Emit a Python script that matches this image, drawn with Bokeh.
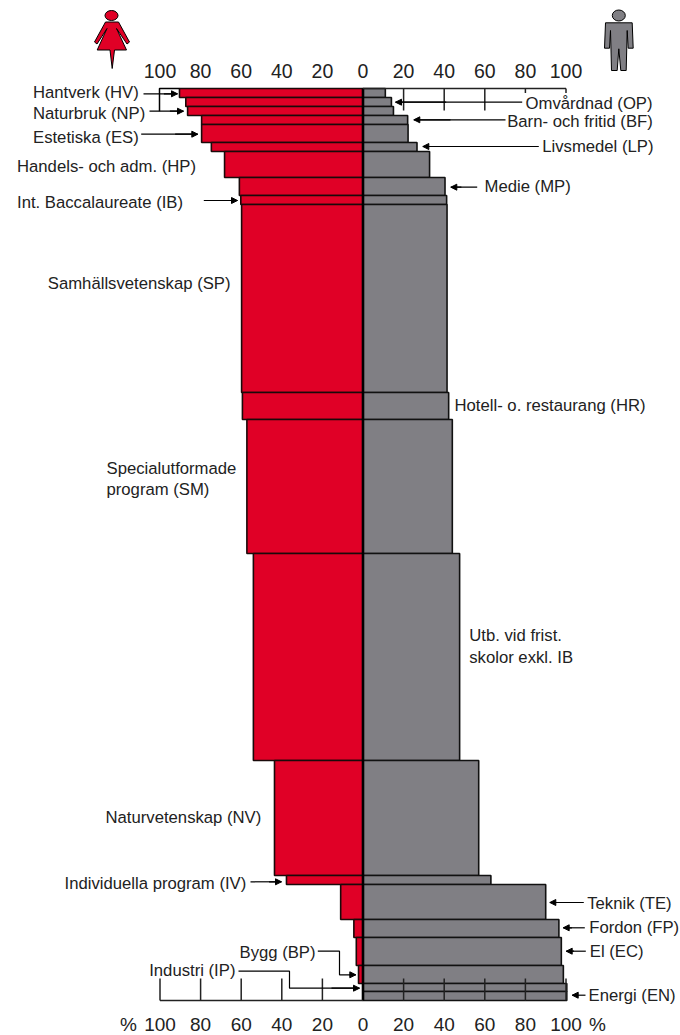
from itertools import accumulate
from bokeh.core.properties import value
from bokeh.embed import file_html
from bokeh.models import Arrow, ColumnDataSource, NormalHead, Range1d
from bokeh.plotting import figure
from bokeh.resources import INLINE

codes = ["HV", "OP", "NP", "BF", "ES", "LP", "HP", "MP", "IB", "SP", "HR",
         "SM", "FR", "NV", "IV", "TE", "FP", "EC", "BP", "IP", "EN"]
women = [90.4, 87.3, 86.4, 79.5, 79.5, 74.7, 68.2, 60.9, 60.2, 59.8, 59.4,
         57.2, 54.0, 43.6, 37.7, 11.0, 4.5, 3.3, 2.2, 0.0, 0.0]
men = [11.0, 14.0, 15.0, 22.0, 22.2, 26.6, 32.8, 40.4, 41.2, 41.4, 42.2,
       44.0, 47.6, 57.0, 63.0, 90.0, 96.5, 97.7, 98.7, 100.4, 100.4]
thickness = [9, 9, 9, 9, 18, 9, 26, 18, 9, 188, 27, 134, 207, 115, 9, 35, 18,
             28, 18, 8, 9]
ticks = [0, 20, 40, 60, 80, 100]
tick_labels = ["0", "20", "40", "60", "80", "100"]

S = 2.03
ZERO = 362.5
TOP = 88.0
RED = "#E00026"
GREY = "#807F84"
INK = "#222222"
FONT = value("Liberation Sans")


def X(px):
    return (px - ZERO) / S


def Y(py):
    return py - TOP


p = figure(width=680, height=1035, output_backend="svg", toolbar_location=None,
           x_range=Range1d(X(0), X(680)), y_range=Range1d(Y(1035), Y(0)),
           x_axis_location=None, y_axis_location=None,
           min_border=0, outline_line_color=None, background_fill_color="white",
           border_fill_color="white")
p.grid.visible = False

bottoms = list(accumulate(thickness))
tops = [0] + bottoms[:-1]
src = ColumnDataSource(dict(code=codes, w=[-v for v in women], m=men, top=tops,
                            bottom=bottoms, zero=[0] * len(codes)))
p.quad(left="w", right="zero", top="top", bottom="bottom", source=src,
       fill_color=RED, line_color="#1a0a0a", line_width=1.6)
p.quad(left="zero", right="m", top="top", bottom="bottom", source=src,
       fill_color=GREY, line_color="#111111", line_width=1.6)
p.segment(x0=[0], x1=[0], y0=[0], y1=[bottoms[-1]], line_color="black", line_width=2.6)

# top axis: ticks reach down to different depths, only on the men's side
p.segment(x0=[0], x1=[100], y0=[0], y1=[0], line_color=INK, line_width=1.5)
p.segment(x0=ticks[1:], x1=ticks[1:], y0=[0] * 5, y1=[Y(110), Y(110), Y(110), Y(92.5), Y(92.5)],
          line_color=INK, line_width=1.5)
# bottom axis
p.segment(x0=[-100], x1=[0], y0=[bottoms[-1]], y1=[bottoms[-1]], line_color=INK, line_width=1.5)
for sign in (-1, 1):
    xs = [sign * t for t in ticks[1:]]
    p.segment(x0=xs, x1=xs, y0=[Y(978)] * 5, y1=[bottoms[-1]] * 5, line_color=INK, line_width=1.5)

# tick labels
lx = [-t for t in ticks[1:]] + ticks
lt = tick_labels[1:] + tick_labels
p.text(x=lx, y=[Y(70.5)] * len(lx), text=lt, text_align="center", text_baseline="middle",
       text_font=FONT, text_font_size="19.5px", text_color=INK)
p.text(x=lx, y=[Y(1023.5)] * len(lx), text=lt, text_align="center", text_baseline="middle",
       text_font=FONT, text_font_size="19px", text_color=INK)
p.text(x=[X(128), X(597)], y=[Y(1023.5)] * 2, text=["%", "%"], text_align="center",
       text_baseline="middle", text_font=FONT, text_font_size="19px", text_color=INK)

labels = [
    ("Hantverk (HV)", 32.5, 91.5), ("Naturbruk (NP)", 32.5, 113), ("Estetiska (ES)", 32.5, 136.5),
    ("Handels- och adm. (HP)", 16.5, 165.5), ("Int. Baccalaureate (IB)", 16.5, 202),
    ("Omvårdnad (OP)", 525, 103), ("Barn- och fritid (BF)", 506.7, 120.7),
    ("Livsmedel (LP)", 541.7, 146), ("Medie (MP)", 484, 186),
    ("Samhällsvetenskap (SP)", 47.3, 283), ("Specialutformade", 106, 468),
    ("program (SM)", 106, 489), ("Hotell- o. restaurang (HR)", 454, 405),
    ("Utb. vid frist.", 468.7, 635), ("skolor exkl. IB", 468.7, 656.7),
    ("Naturvetenskap  (NV)", 105, 817), ("Individuella program (IV)", 64, 883),
    ("Teknik (TE)", 586.7, 902.7), ("Fordon (FP)", 588.7, 926.7), ("El (EC)", 589.3, 950.7),
    ("Energi (EN)", 588, 995), ("Bygg (BP)", 239, 951.7), ("Industri (IP)", 148.7, 970),
]
p.text(x=[X(a[1]) for a in labels], y=[Y(a[2]) for a in labels], text=[a[0] for a in labels],
       text_align="left", text_baseline="middle", text_font=FONT, text_font_size="16.7px",
       text_color=INK)

leaders = [
    [(143, 93.3), (177, 93.3)], [(149, 110.7), (183, 110.7)], [(140.7, 133.7), (197.3, 133.7)],
    [(203.3, 200), (237, 200)], [(521.7, 101.7), (395, 101.7)], [(505, 119.3), (413.3, 119.3)],
    [(538.3, 146), (422.3, 146)], [(476.7, 186.7), (450.3, 186.7)], [(250, 881.3), (281, 881.3)],
    [(583.3, 902), (549.3, 902)], [(584.3, 927.3), (562.7, 927.3)], [(585.3, 950.7), (565.7, 950.7)],
    [(585, 994.7), (571.7, 994.7)],
    [(317.3, 950.7), (339, 950.7), (339, 974.3), (355.3, 974.3)],
    [(238, 970.7), (289, 970.7), (289, 987.7), (359, 987.7)],
]
for pts in leaders:
    p.line(x=[X(a) for a, _ in pts], y=[Y(b) for _, b in pts], line_color="black", line_width=1.2)
    (x0, y0), (x1, y1) = pts[-2], pts[-1]
    p.add_layout(Arrow(end=NormalHead(size=6, fill_color="black", line_color="black"),
                       x_start=X(x0 + (x1 - x0) * 0.6), y_start=Y(y0), x_end=X(x1), y_end=Y(y1),
                       line_color="black", line_width=1.2))
# bracket joining the HV and NP leaders
p.line(x=[X(159), X(159), X(179)], y=[Y(110.7), Y(88), Y(88)], line_color="black", line_width=1.5)

# gender pictograms
woman = [(105, 21.5), (118, 21.5), (129, 41.5), (126.5, 43.5), (116, 28), (126, 49.5), (114, 49.5),
         (111.7, 68), (109.5, 49.5), (96.7, 49.5), (106.5, 28), (96.5, 43.5), (94, 41.5)]
man = [(605, 22.3), (631.7, 22.3), (632.7, 47.7), (627.7, 47.7), (626.7, 30), (625.7, 70),
       (620.3, 70), (618.3, 48.3), (616.7, 70), (611, 70), (610, 30), (609, 47.7), (604, 47.7)]
for poly, col, cx, cw, ch in ((woman, RED, 111, 13, 10), (man, GREY, 618.3, 13, 11)):
    p.patch(x=[X(a) for a, _ in poly], y=[Y(b) for _, b in poly], fill_color=col,
            line_color="black", line_width=1)
    p.ellipse(x=[X(cx)], y=[Y(15)], width=cw, height=ch, width_units="screen", height_units="screen",
              fill_color=col, line_color="black", line_width=1)

open("out.html", "w").write(file_html(p, INLINE))
